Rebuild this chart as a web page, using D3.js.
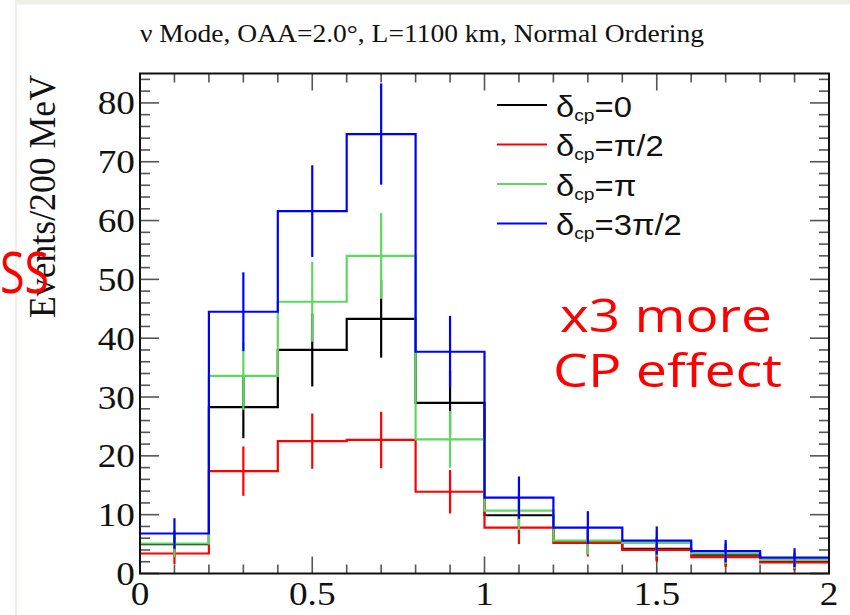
<!DOCTYPE html>
<html>
<head>
<meta charset="utf-8">
<script src="https://cdn.jsdelivr.net/npm/d3@7/dist/d3.min.js"></script>
<style>
  html, body { margin: 0; padding: 0; background: #ffffff; }
  svg { display: block; }
</style>
</head>
<body>
<svg id="chart" width="850" height="615"></svg>
<script>
// Reconstructed neutrino energy spectra (events per 200 MeV bin) for four values of delta_CP
const binEdges = [0, 0.2, 0.4, 0.6, 0.8, 1.0, 1.2, 1.4, 1.6, 1.8, 2.0];

const eventsDcp0     = [5.0, 28.3, 38.0, 43.3, 29.0, 9.9, 5.5, 4.2, 3.2, 2.1];
const errorsDcp0     = [2.2, 5.3, 6.2, 6.6, 5.4, 3.1, 2.3, 2.0, 1.8, 1.4];
const eventsDcpPi2   = [3.4, 17.4, 22.5, 22.7, 13.9, 7.8, 5.2, 4.0, 2.8, 1.9];
const errorsDcpPi2   = [1.8, 4.2, 4.7, 4.8, 3.7, 2.8, 2.3, 2.0, 1.7, 1.4];
const eventsDcpPi    = [5.1, 33.6, 46.2, 54.0, 22.8, 10.7, 5.6, 5.2, 3.4, 2.3];
const errorsDcpPi    = [2.3, 5.8, 6.8, 7.3, 4.8, 3.3, 2.4, 2.3, 1.8, 1.5];
const eventsDcp3Pi2  = [6.8, 44.5, 61.6, 74.7, 37.7, 12.9, 7.8, 5.6, 3.8, 2.7];
const errorsDcp3Pi2  = [2.6, 6.7, 7.8, 8.6, 6.1, 3.6, 2.8, 2.4, 1.9, 1.6];

const seriesLabels = ["0", "\u03c0/2", "\u03c0", "3\u03c0/2"];
const seriesColors = ["#000000", "#ff0000", "#5fd75f", "#0000ff"];

const xTickValues = [0, 0.5, 1, 1.5, 2];
const xTickLabels = ["0", "0.5", "1", "1.5", "2"];
const yTickValues = [0, 10, 20, 30, 40, 50, 60, 70, 80];
const yTickLabels = ["0", "10", "20", "30", "40", "50", "60", "70", "80"];

const titleText = "\u03bd Mode, OAA=2.0\u00b0, L=1100 km, Normal Ordering";
const yAxisTitle = "Events/200 MeV";
const noteLines = ["x3 more", "CP effect"];

const series = [
  { label: seriesLabels[0], color: seriesColors[0], values: eventsDcp0,    errors: errorsDcp0 },
  { label: seriesLabels[1], color: seriesColors[1], values: eventsDcpPi2,  errors: errorsDcpPi2 },
  { label: seriesLabels[2], color: seriesColors[2], values: eventsDcpPi,    errors: errorsDcpPi },
  { label: seriesLabels[3], color: seriesColors[3], values: eventsDcp3Pi2, errors: errorsDcp3Pi2 }
];

const svg = d3.select("#chart");
const frame = { left: 140, right: 829, top: 73.5, bottom: 573.5 };
const stretch = 1.13; // horizontal glyph stretch of the canvas text

const x = d3.scaleLinear().domain([0, 2]).range([frame.left, frame.right]);
const y = d3.scaleLinear().domain([0, 85]).range([frame.bottom, frame.top]);

// slide border
svg.append("rect").attr("x", 15).attr("y", 0).attr("width", 835).attr("height", 4.5).attr("fill", "#efefe6");
svg.append("line").attr("x1", 16).attr("x2", 16).attr("y1", 0).attr("y2", 615)
  .attr("stroke", "#efefe6").attr("stroke-width", 2);

// title
svg.append("text")
  .attr("x", 140).attr("y", 42)
  .attr("font-family", "'Liberation Serif', 'Times New Roman', serif")
  .attr("font-size", 24.5)
  .attr("textLength", 564).attr("lengthAdjust", "spacingAndGlyphs")
  .attr("fill", "#111")
  .text(titleText);

// ticks (ROOT style: on all four sides, pointing inward)
const ticks = svg.append("g").attr("stroke", "#555").attr("stroke-width", 1.6);
const yMinor = d3.range(0, 85, 2).filter(v => v % 10 !== 0);
const xMinor = d3.range(1, 20).map(i => i / 10).filter(v => Math.abs(v * 2 - Math.round(v * 2)) > 1e-6);

function yTick(v, len) {
  ticks.append("line").attr("x1", frame.left).attr("x2", frame.left + len).attr("y1", y(v)).attr("y2", y(v));
  ticks.append("line").attr("x1", frame.right).attr("x2", frame.right - len).attr("y1", y(v)).attr("y2", y(v));
}
function xTick(v, len) {
  ticks.append("line").attr("y1", frame.bottom).attr("y2", frame.bottom - len).attr("x1", x(v)).attr("x2", x(v));
  ticks.append("line").attr("y1", frame.top).attr("y2", frame.top + len).attr("x1", x(v)).attr("x2", x(v));
}
yTickValues.forEach(v => yTick(v, 19));
yMinor.forEach(v => yTick(v, 10));
xTickValues.forEach(v => xTick(v, 17));
xMinor.forEach(v => xTick(v, 9));

// tick labels
const serif = "'Liberation Serif', 'Times New Roman', serif";
yTickValues.forEach((v, i) => {
  svg.append("g").attr("transform", `translate(135,${y(v) + 11.5}) scale(${stretch},1)`)
    .append("text").attr("text-anchor", "end")
    .attr("font-family", serif).attr("font-size", 33).attr("fill", "#111")
    .text(yTickLabels[i]);
});
xTickValues.forEach((v, i) => {
  svg.append("g").attr("transform", `translate(${x(v)},605) scale(${stretch},1)`)
    .append("text").attr("text-anchor", "middle")
    .attr("font-family", serif).attr("font-size", 33).attr("fill", "#111")
    .text(xTickLabels[i]);
});

// y axis title
svg.append("text")
  .attr("transform", "translate(55,196.5) rotate(-90)")
  .attr("text-anchor", "middle")
  .attr("font-family", serif).attr("font-size", 38)
  .attr("textLength", 243).attr("lengthAdjust", "spacingAndGlyphs")
  .attr("fill", "#111")
  .text(yAxisTitle);

// histograms with statistical error bars
const plot = svg.append("g");
const step = d3.line().x(d => x(d[0])).y(d => y(d[1])).curve(d3.curveStepAfter);
series.forEach(s => {
  const pts = s.values.map((v, i) => [binEdges[i], v]);
  pts.push([binEdges[binEdges.length - 1], s.values[s.values.length - 1]]);
  plot.append("path").attr("d", step(pts))
    .attr("fill", "none").attr("stroke", s.color).attr("stroke-width", 2.2);
  plot.selectAll(null).data(s.values).enter().append("line")
    .attr("x1", (d, i) => x((binEdges[i] + binEdges[i + 1]) / 2))
    .attr("x2", (d, i) => x((binEdges[i] + binEdges[i + 1]) / 2))
    .attr("y1", (d, i) => y(Math.max(0, d - s.errors[i])))
    .attr("y2", (d, i) => y(d + s.errors[i]))
    .attr("stroke", s.color).attr("stroke-width", 2.2);
});

// frame
svg.append("rect")
  .attr("x", frame.left).attr("y", frame.top)
  .attr("width", frame.right - frame.left).attr("height", frame.bottom - frame.top)
  .attr("fill", "none").attr("stroke", "#111").attr("stroke-width", 2);

// legend
const legend = svg.append("g");
const legendRows = [105, 144.5, 184, 223.5];
series.forEach((s, i) => {
  const ly = legendRows[i];
  legend.append("line").attr("x1", 497).attr("x2", 547).attr("y1", ly).attr("y2", ly)
    .attr("stroke", s.color).attr("stroke-width", 2.2);
  const t = legend.append("g").attr("transform", `translate(556,${ly + 11.5}) scale(${stretch},1)`)
    .append("text").attr("font-family", "'Liberation Sans', Arial, sans-serif").attr("fill", "#111");
  t.append("tspan").attr("font-size", 29).text("\u03b4");
  t.append("tspan").attr("font-size", 17).attr("dy", 4).text("cp");
  t.append("tspan").attr("font-size", 29).attr("dy", -4).text("=" + s.label);
});

// annotation
const note = svg.append("g").attr("fill", "#ff0000").attr("font-family", "'Open Sans', 'Noto Sans', sans-serif");
note.append("text").attr("x", 560).attr("y", 332).attr("font-size", 45)
  .attr("textLength", 212).attr("lengthAdjust", "spacingAndGlyphs").text(noteLines[0]);
note.append("text").attr("x", 553).attr("y", 387).attr("font-size", 45)
  .attr("textLength", 229).attr("lengthAdjust", "spacingAndGlyphs").text(noteLines[1]);

// word ending at the slide edge
note.append("g").attr("transform", "translate(0,293) scale(0.8,1)")
  .append("text").attr("text-anchor", "start").attr("font-size", 56).text("SS");
</script>
</body>
</html>
